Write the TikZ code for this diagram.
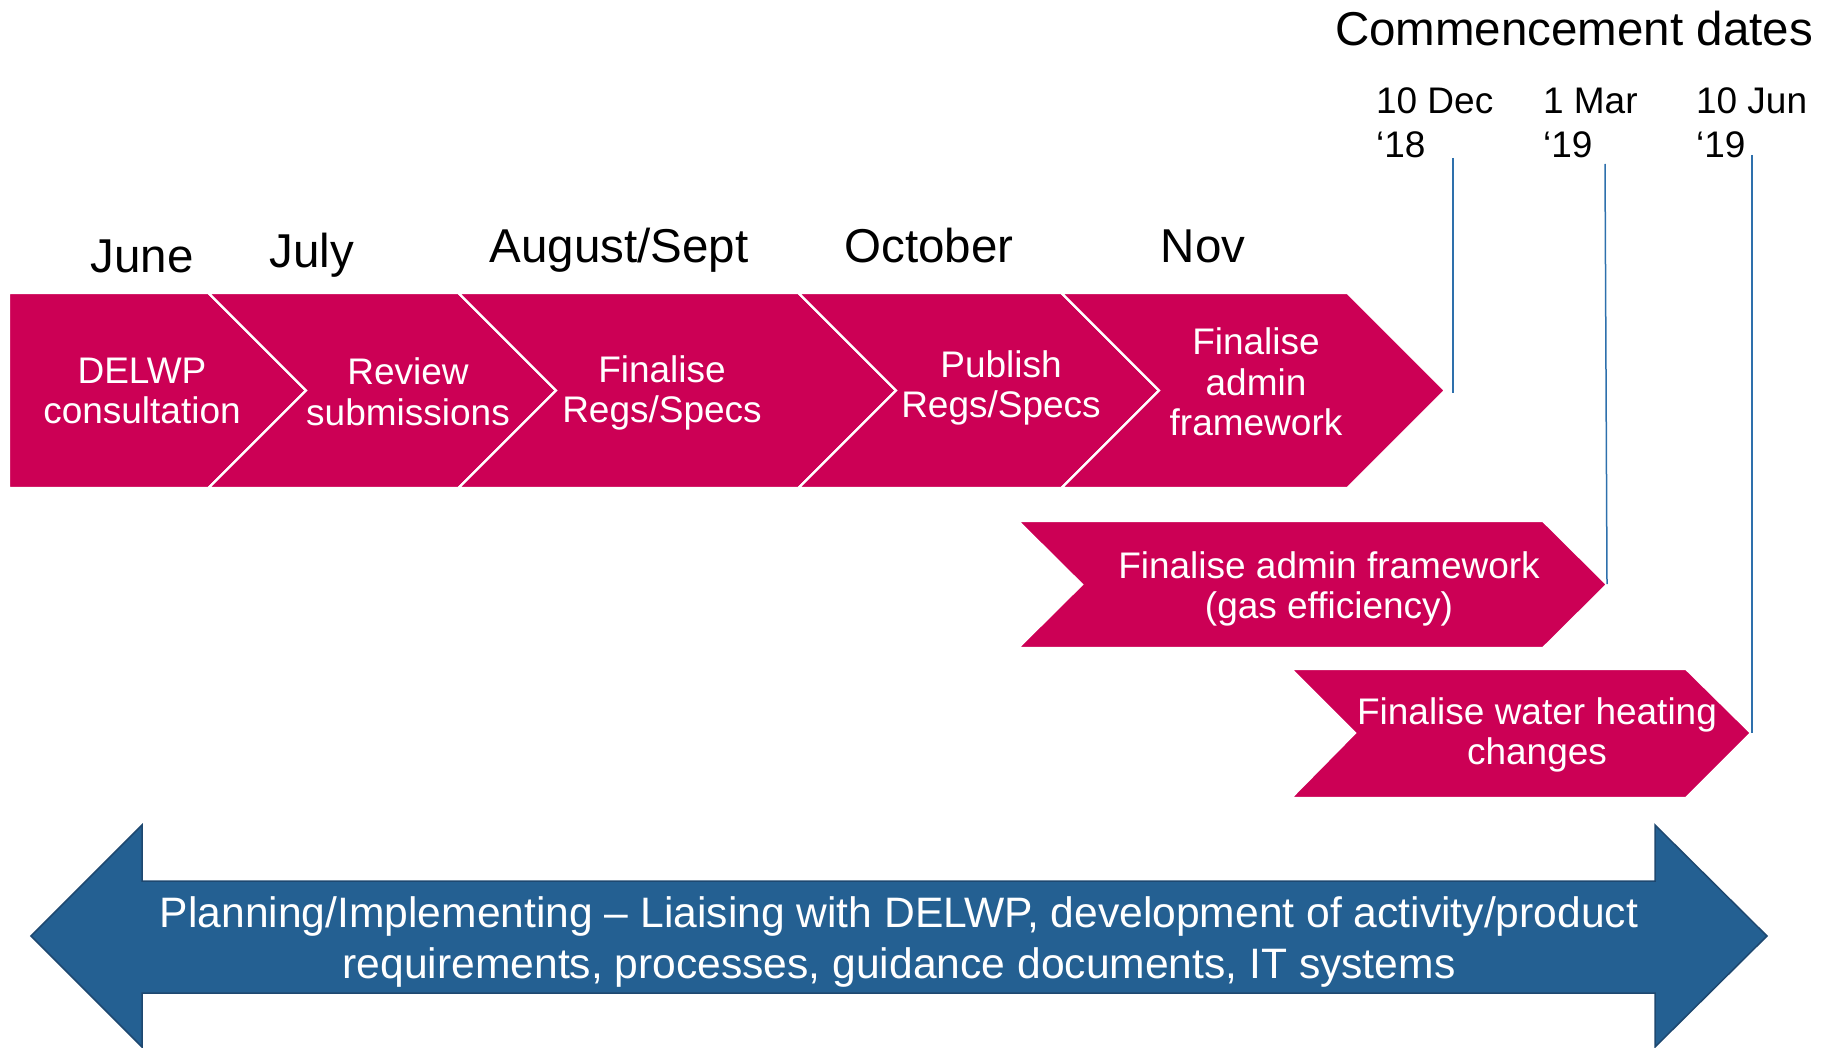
\documentclass[tikz,border=0pt]{standalone}
\usepackage{fontspec}
\setmainfont{Liberation Sans}
\usetikzlibrary{positioning,calc}

\definecolor{pinkred}{RGB}{204,0,85}
\definecolor{arrowblue}{RGB}{36,96,146}
\definecolor{arrowedge}{RGB}{30,72,112}
\definecolor{lineblue}{RGB}{46,112,172}

\begin{document}
\begin{tikzpicture}[
    x=0.5pt, y=-0.5pt,
    chevron/.style = {fill=pinkred, draw=white, line width=1.1pt, line join=miter},
    stage/.style = {text=white, align=center, font=\fontsize{18.5}{20.25}\selectfont},
    month/.style = {anchor=base, font=\fontsize{23.75}{26}\selectfont},
    datelabel/.style = {anchor=base west, align=left, font=\fontsize{18.5}{22}\selectfont},
    marker/.style = {draw=lineblue, line width=0.75pt},
    planning/.style = {fill=arrowblue, draw=arrowedge, line width=0.75pt, line join=miter}
    ]
    \useasboundingbox (0,0) rectangle (1830,1048);

    % first row of stages
    \fill[chevron] (9,293) -- (208.5,293) -- (306,390.5) -- (208.5,488) -- (9,488) -- cycle;
    \draw[chevron] (208.5,293) -- (458.5,293) -- (556,390.5) -- (458.5,488) -- (208.5,488) -- (306,390.5) -- cycle;
    \draw[chevron] (458.5,293) -- (798.5,293) -- (896,390.5) -- (798.5,488) -- (458.5,488) -- (556,390.5) -- cycle;
    \draw[chevron] (798.5,293) -- (1061.5,293) -- (1159,390.5) -- (1061.5,488) -- (798.5,488) -- (896,390.5) -- cycle;
    \draw[chevron] (1061.5,293) -- (1347.5,293) -- (1445,390.5) -- (1347.5,488) -- (1061.5,488) -- (1159,390.5) -- cycle;

    % later stages
    \draw[chevron] (1018,521) -- (1543,521) -- (1607,584.5) -- (1543,648) -- (1018,648) -- (1082,584.5) -- cycle;
    \draw[chevron] (1291,669) -- (1686,669) -- (1751,733) -- (1686,798) -- (1291,798) -- (1355,733) -- cycle;

    \node[stage] (consult) at (142,391) {DELWP\\consultation};
    \node[stage] (review) at (408,392) {Review\\submissions};
    \node[stage] (finalise-regs) at (662,393) {Finalise\\Regs/Specs};
    \node[stage] (publish) at (1001,388) {Publish\\Regs/Specs};
    \node[stage] (admin) at (1256,382) {Finalise\\admin\\framework};
    \node[stage] (admin-gas) at (1329,589) {Finalise admin framework\\(gas efficiency)};
    \node[stage] (water) at (1537,735) {Finalise water heating\\changes};

    % months
    \node[month] (june) at (142,272) {June};
    \node[month] (july) at (312,268) {July};
    \node[month] (aug-sept) at (619,263) {August/Sept};
    \node[month] (october) at (929,263) {October};
    \node[month] (nov) at (1203,263) {Nov};

    % commencement dates
    \node[month, anchor=base west] (commence) at (1328,46) {Commencement dates};
    \node[datelabel] (dec18) at (1369,158) {10 Dec\\‘18};
    \node[datelabel] (mar19) at (1536,158) {1 Mar\\‘19};
    \node[datelabel] (jun19) at (1689,158) {10 Jun\\‘19};

    \coordinate (dec-top) at (1453,158);
    \coordinate (dec-end) at (1453,393);
    \coordinate (mar-top) at (1605,164);
    \coordinate (mar-end) at (1607,584);
    \coordinate (jun-top) at (1752,155);
    \coordinate (jun-end) at (1752,733);
    \draw[marker] (dec-top) -- (dec-end);
    \draw[marker] (mar-top) -- (mar-end);
    \draw[marker] (jun-top) -- (jun-end);

    % planning arrow
    \draw[planning] (31,936) -- (142,825) -- (142,881) -- (1655,881) -- (1655,825) -- (1767,936)
        -- (1655,1047) -- (1655,993) -- (142,993) -- (142,1047) -- cycle;
    \node[text=white, align=center, font=\fontsize{21.3}{25.5}\selectfont] (plan-text) at (899,942)
        {Planning/Implementing -- Liaising with DELWP, development of activity/product\\requirements, processes, guidance documents, IT systems};
\end{tikzpicture}
\end{document}
